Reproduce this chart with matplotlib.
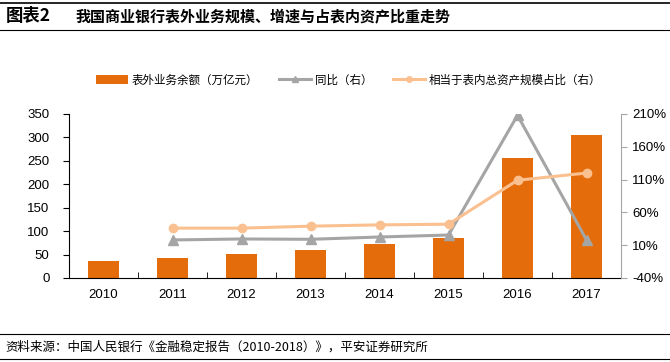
import matplotlib
matplotlib.use("Agg")
import matplotlib.pyplot as plt
from matplotlib.lines import Line2D
from matplotlib.patches import Patch

plt.rcParams['font.family'] = ['Liberation Sans', 'Noto Sans CJK SC', 'DejaVu Sans']

# Data
years = ['2010', '2011', '2012', '2013', '2014', '2015', '2016', '2017']
off_balance = [36, 43, 51, 60, 72, 85, 256, 306]          # 万亿元
yoy = [None, 18, 19.5, 19, 22.5, 25.5, 208, 18]            # %
ratio = [None, 36, 36, 39, 41, 42, 109, 120]               # %

bar_color = '#E46C0A'
gray = '#A5A5A5'
peach = '#FAC090'

fig = plt.figure(figsize=(6.7, 3.62), dpi=100)

# title bar
fig.add_artist(Line2D([0.0, 1.0], [1 - 3 / 362, 1 - 3 / 362], color='black', lw=1.2))
fig.add_artist(Line2D([0.0, 1.0], [1 - 30 / 362, 1 - 30 / 362], color='black', lw=0.8))
fig.text(0.008, 1 - 16 / 362, '图表2', fontsize=12.5, fontweight='bold', va='center',
         family=['Noto Sans CJK SC'])
fig.text(0.112, 1 - 16 / 362, '我国商业银行表外业务规模、增速与占表内资产比重走势',
         fontsize=10.8, fontweight='bold', va='center', family=['Noto Sans CJK SC'])

# footer
fig.add_artist(Line2D([0.0, 1.0], [1 - 334 / 362, 1 - 334 / 362], color='black', lw=0.8))
fig.add_artist(Line2D([0.0, 1.0], [1 - 359 / 362, 1 - 359 / 362], color='black', lw=0.8))
fig.text(0.008, 1 - 347 / 362, '资料来源：中国人民银行《金融稳定报告（2010-2018）》，平安证券研究所',
         fontsize=9, va='center', style='italic', family=['Noto Sans CJK SC', 'DejaVu Sans'])

ax = fig.add_axes([69 / 670, 1 - 278 / 362, (621 - 69) / 670, (278 - 114) / 362])
x = list(range(len(years)))
ax.bar(x, off_balance, width=0.45, color=bar_color, zorder=2)
ax.set_xlim(-0.5, len(years) - 0.5)
ax.set_ylim(0, 350)
ax.set_yticks(range(0, 351, 50))
ax.set_xticks(x)
ax.set_xticklabels(years)
ax.set_xticks([i + 0.5 for i in x[:-1]], minor=True)
ax.tick_params(axis='x', which='major', length=0, pad=8, labelsize=9.5)
ax.tick_params(axis='x', which='minor', direction='in', length=4, color='black')
ax.tick_params(axis='y', direction='out', length=4, labelsize=9.5, pad=10)
for s in ['top', 'right']:
    ax.spines[s].set_visible(False)
ax.spines['left'].set_color('black')
ax.spines['bottom'].set_color('black')

ax2 = ax.twinx()
xs = [i for i, v in zip(x, yoy) if v is not None]
ax2.plot(xs, [v for v in yoy if v is not None], color=gray, lw=2.2, marker='^',
         markersize=7, zorder=3)
ax2.plot(xs, [v for v in ratio if v is not None], color=peach, lw=2.2, marker='o',
         markersize=6, zorder=4)
ax2.set_ylim(-40, 210)
ax2.set_yticks(range(-40, 211, 50))
ax2.set_yticklabels([f'{t}%' for t in range(-40, 211, 50)])
ax2.tick_params(axis='y', direction='out', length=4, labelsize=9.5, color=gray, pad=4)
for s in ['top', 'left', 'bottom']:
    ax2.spines[s].set_visible(False)
ax2.spines['right'].set_color(gray)

handles = [
    Patch(facecolor=bar_color, edgecolor='none'),
    Line2D([0], [0], color=gray, lw=2.2, marker='^', markersize=5),
    Line2D([0], [0], color=peach, lw=2.2, marker='o', markersize=4),
]
labels = ['表外业务余额（万亿元）', '同比（右）', '相当于表内总资产规模占比（右）']
fig.legend(handles, labels, loc='center', bbox_to_anchor=(0.52, 1 - 80 / 362), ncol=3,
           frameon=False, handlelength=2.8, handletextpad=0.3, columnspacing=1.8,
           prop={'family': ['Noto Sans CJK SC'], 'size': 8.3})

fig.savefig('out.png', dpi=100)
